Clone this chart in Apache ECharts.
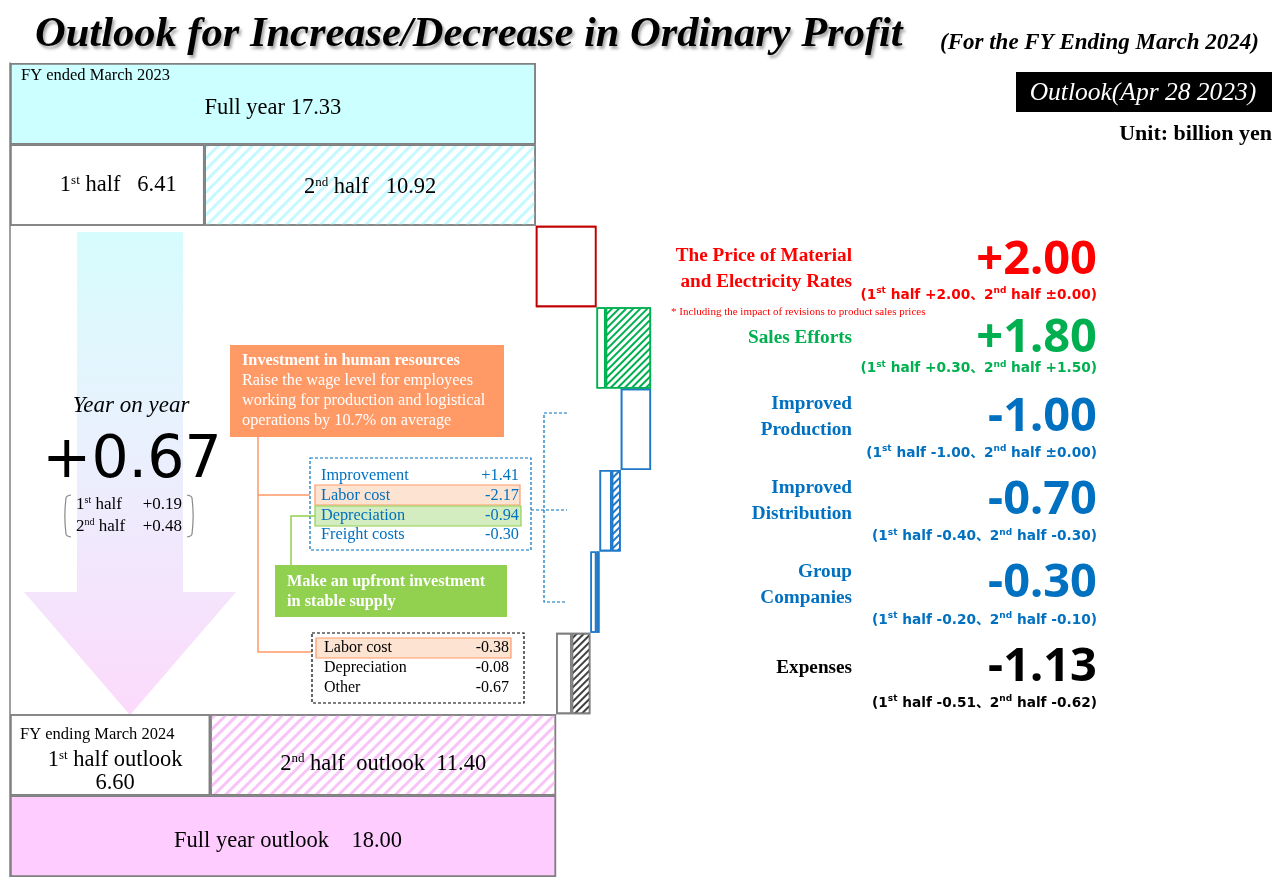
<!DOCTYPE html>
<html>
<head>
<meta charset="utf-8">
<script src="https://cdn.jsdelivr.net/npm/echarts@6/dist/echarts.min.js"></script>
<style>
  html, body { margin: 0; padding: 0; background: #fff; }
  #chart { width: 1274px; height: 877px; }
</style>
</head>
<body>
<div id="chart"></div>
<script>
// ---- data ----
const rowKeys = ['fy23', 'fy23half', 'material', 'sales', 'production', 'distribution', 'group', 'expenses', 'fy24half', 'fy24'];
const prevFull = 17.33;
const prevHalves = [6.41, 10.92];
const outlookFull = 18.00;
const outlookHalves = [6.60, 11.40];

const stepNames = ['The Price of Material\nand Electricity Rates', 'Sales Efforts', 'Improved\nProduction', 'Improved\nDistribution', 'Group\nCompanies', 'Expenses'];
const stepFirst = [2.00, 0.30, -1.00, -0.40, -0.20, -0.51];
const stepSecond = [0.00, 1.50, 0.00, -0.30, -0.10, -0.62];
const stepBorder = ['#C00000', '#00B050', '#1F78C8', '#1F78C8', '#1F78C8', '#808080'];
const stepHatch = ['#C00000', '#00B050', '#1F78C8', '#1F78C8', '#1F78C8', '#404040'];
const stepText = ['#FF0000', '#00B050', '#0070C0', '#0070C0', '#0070C0', '#000000'];

const yoyHalves = [0.19, 0.48];
const laborNote = ['Investment in human resources', 'Raise the wage level for employees', 'working for production and logistical', 'operations by 10.7% on average'];
const supplyNote = ['Make an upfront investment', 'in stable supply'];
const productionItems = [['Improvement', 1.41], ['Labor cost', -2.17], ['Depreciation', -0.94], ['Freight costs', -0.30]];
const expenseItems = [['Labor cost', -0.38], ['Depreciation', -0.08], ['Other', -0.67]];

// ---- helpers ----
const GRAY = '#808080';
const SERIF = '"Liberation Serif", "Times New Roman", serif';
const SANS = '"Noto Sans", "Noto Sans CJK JP", sans-serif';
const signed = v => (v > 0.0001 ? '+' : v < -0.0001 ? '-' : '±') + Math.abs(v).toFixed(2);
const hatch = (color, stripe, gap) => ({
    symbol: 'rect', symbolSize: 1, dashArrayX: [1, 0], dashArrayY: [stripe, gap], rotation: -Math.PI / 4, color
});
const noHatch = { symbol: 'none', dashArrayX: [1, 0], dashArrayY: [1, 0], color: 'rgba(0,0,0,0)' };
const rich = {
    n: { fontFamily: SERIF, fontSize: 22.5, color: '#000', lineHeight: 23 },
    s: { fontFamily: SERIF, fontSize: 13, color: '#000', verticalAlign: 'top' }
};

// 瀑布各段：base 透明，A = 上期(白)，B = 下期(斜线)
let level = prevFull;
const stepBase = [], stepA = [], stepB = [];
stepFirst.forEach((f, i) => {
    const s = stepSecond[i];
    const next = level + f + s;
    stepBase.push(+Math.min(level, next).toFixed(2));
    stepA.push(Math.abs(f));
    stepB.push(Math.abs(s));
    level = next;
});

const baseData = [0, 0, ...stepBase, 0, 0];
const aData = [
    { value: prevFull, itemStyle: { color: '#CCFFFF', borderColor: GRAY },
      label: { show: true, offset: [0, 4], formatter: '{n|Full year ' + prevFull.toFixed(2) + '}' } },
    { value: prevHalves[0], itemStyle: { color: '#fff', borderColor: GRAY },
      label: { show: true, offset: [11, 0], formatter: '{n|1}{s|st}{n| half   ' + prevHalves[0].toFixed(2) + '}' } },
    ...stepA.map((v, i) => ({ value: v, itemStyle: { color: '#fff', borderColor: stepBorder[i], borderWidth: 1.6 } })),
    { value: outlookHalves[0], itemStyle: { color: '#fff', borderColor: GRAY },
      label: { show: true, offset: [5, 17], formatter: '{n|1}{s|st}{n| half outlook}\n{n|' + outlookHalves[0].toFixed(2) + '}' } },
    { value: outlookFull, itemStyle: { color: '#FFCCFF', borderColor: GRAY },
      label: { show: true, offset: [5, 5], formatter: '{n|Full year outlook    ' + outlookFull.toFixed(2) + '}' } }
];
const bData = [
    '-',
    { value: prevHalves[1], itemStyle: { color: '#fff', borderColor: GRAY, decal: hatch('#C4FAFF', 3, 5) },
      label: { show: true, offset: [0, 2], formatter: '{n|2}{s|nd}{n| half   ' + prevHalves[1].toFixed(2) + '}' } },
    ...stepB.map((v, i) => v === 0 ? '-' : ({
        value: v, itemStyle: { color: '#fff', borderColor: stepBorder[i], borderWidth: 1.6, decal: hatch(stepHatch[i], 1.4, 3) }
    })),
    { value: outlookHalves[1], itemStyle: { color: '#fff', borderColor: GRAY, decal: hatch('#F8C4F8', 3, 5) },
      label: { show: true, offset: [0, 9], formatter: '{n|2}{s|nd}{n| half  outlook  ' + outlookHalves[1].toFixed(2) + '}' } },
    '-'
];

const chart = echarts.init(document.getElementById('chart'), null, { renderer: 'canvas' });

chart.setOption({
    animation: false,
    aria: { enabled: true, decal: { show: true } },
    grid: { left: 10, right: 50.4, top: 63, bottom: -4, containLabel: false },
    xAxis: { type: 'value', min: 0, max: 40, show: false },
    yAxis: {
        type: 'category', inverse: true, data: rowKeys,
        axisLine: { lineStyle: { color: GRAY, width: 1.5 } },
        axisTick: { length: 3, lineStyle: { color: GRAY } },
        axisLabel: { show: false }
    },
    series: [
        { name: 'base', type: 'bar', stack: 'w', barWidth: '100%', silent: true,
          itemStyle: { color: 'transparent', decal: noHatch }, data: baseData },
        { name: 'first', type: 'bar', stack: 'w', barWidth: '100%',
          itemStyle: { borderWidth: 1.5, decal: noHatch }, label: { position: 'inside', rich }, data: aData },
        { name: 'second', type: 'bar', stack: 'w', barWidth: '100%',
          itemStyle: { borderWidth: 1.5 }, label: { position: 'inside', rich }, data: bData }
    ]
});

// ---- annotations ----
const rowY = i => chart.convertToPixel({ yAxisIndex: 0 }, i);
const txt = (x, y, text, font, fill, align, extra) => ({
    type: 'text', x, y, z: 10,
    style: Object.assign({ text, font, fill: fill || '#000', align: align || 'left', verticalAlign: 'middle' }, extra || {})
});
const g = [];

g.push(txt(35, 35, 'Outlook for Increase/Decrease in Ordinary Profit', 'italic bold 42.5px ' + SERIF, '#000', 'left',
    { textShadowColor: 'rgba(0,0,0,0.35)', textShadowBlur: 3, textShadowOffsetX: 2, textShadowOffsetY: 3 }));
g.push(txt(940, 43, '(For the FY Ending March 2024)', 'italic bold 23px ' + SERIF));
g.push({ type: 'rect', shape: { x: 1016, y: 72, width: 256, height: 40 }, style: { fill: '#000' } });
g.push(txt(1143, 93, 'Outlook(Apr 28 2023)', 'italic 25.5px ' + SERIF, '#fff', 'center'));
g.push(txt(1272, 134, 'Unit: billion yen', 'bold 22px ' + SERIF, '#000', 'right'));
g.push(txt(21, 76, 'FY ended March 2023', '16.5px ' + SERIF));
g.push(txt(20, 735, 'FY ending March 2024', '16.5px ' + SERIF));

// 大箭头
g.push({
    type: 'polygon', z: 1,
    shape: { points: [[77, 232], [183, 232], [183, 592], [236, 592], [130, 715], [24, 592], [77, 592]] },
    style: { fill: new echarts.graphic.LinearGradient(0, 0, 0, 1, [
        { offset: 0, color: '#D6FCFD' }, { offset: 0.45, color: '#EAF0FD' }, { offset: 1, color: '#FCDAFB' }
    ]) }
});
const yoyTotal = stepFirst.reduce((a, b) => a + b, 0) + stepSecond.reduce((a, b) => a + b, 0);
g.push(txt(131, 406, 'Year on year', 'italic 23px ' + SERIF, '#000', 'center'));
g.push(txt(132, 462, signed(yoyTotal), '58.5px "DejaVu Sans"', '#000', 'center'));
g.push({ type: 'polyline', z: 10, shape: { points: [[71, 495], [66, 498], [66, 534], [71, 537]], smooth: 0.4 }, style: { stroke: '#888', lineWidth: 1.2, fill: null } });
g.push({ type: 'polyline', z: 10, shape: { points: [[187, 495], [192, 498], [192, 534], [187, 537]], smooth: 0.4 }, style: { stroke: '#888', lineWidth: 1.2, fill: null } });
const halfRich = { n: { fontFamily: SERIF, fontSize: 17, lineHeight: 20 }, s: { fontFamily: SERIF, fontSize: 10, verticalAlign: 'top' } };
g.push(txt(76, 505, '{n|1}{s|st}{n| half}', '17px ' + SERIF, '#000', 'left', { rich: halfRich }));
g.push(txt(76, 527, '{n|2}{s|nd}{n| half}', '17px ' + SERIF, '#000', 'left', { rich: halfRich }));
g.push(txt(182, 505, signed(yoyHalves[0]), '17px ' + SERIF, '#000', 'right'));
g.push(txt(182, 527, signed(yoyHalves[1]), '17px ' + SERIF, '#000', 'right'));

// 人件费说明框
const ORANGE = '#FF9966', LGREEN = '#92D050', BLUE = '#0070C0';
g.push({ type: 'rect', z: 5, shape: { x: 230, y: 345, width: 274, height: 92 }, style: { fill: ORANGE } });
laborNote.forEach((t, i) => g.push(txt(242, 361 + i * 20, t, (i === 0 ? 'bold ' : '') + '16.3px ' + SERIF, '#fff')));
g.push({ type: 'polyline', z: 5, shape: { points: [[258, 437], [258, 652], [313, 652]] }, style: { stroke: ORANGE, lineWidth: 1.5, fill: null } });
g.push({ type: 'line', z: 5, shape: { x1: 258, y1: 495, x2: 315, y2: 495 }, style: { stroke: ORANGE, lineWidth: 1.5 } });

// 生产改善明细
g.push({ type: 'rect', z: 5, shape: { x: 310, y: 458, width: 221, height: 92 }, style: { fill: '#fff', stroke: BLUE, lineWidth: 1.2, lineDash: [3, 2] } });
g.push({ type: 'rect', z: 6, shape: { x: 315, y: 485, width: 205, height: 20 }, style: { fill: '#FDE4D2', stroke: ORANGE, lineWidth: 1.2 } });
g.push({ type: 'rect', z: 6, shape: { x: 315, y: 506, width: 206, height: 20 }, style: { fill: '#D3EDC1', stroke: LGREEN, lineWidth: 1.2 } });
productionItems.forEach(([name, v], i) => {
    g.push(txt(321, 476 + i * 19.7, name, '16.3px ' + SERIF, BLUE));
    g.push(txt(519, 476 + i * 19.7, signed(v), '16.3px ' + SERIF, BLUE, 'right'));
});
g.push({ type: 'line', z: 5, shape: { x1: 531, y1: 510, x2: 567, y2: 510 }, style: { stroke: BLUE, lineWidth: 1.2, lineDash: [3, 2] } });
g.push({ type: 'polyline', z: 5, shape: { points: [[567, 413], [544, 413], [544, 602], [567, 602]] }, style: { stroke: BLUE, lineWidth: 1.2, lineDash: [3, 2], fill: null } });

// 稳定供给
g.push({ type: 'polyline', z: 5, shape: { points: [[315, 516], [291, 516], [291, 565]] }, style: { stroke: LGREEN, lineWidth: 1.5, fill: null } });
g.push({ type: 'rect', z: 5, shape: { x: 275, y: 565, width: 232, height: 52 }, style: { fill: LGREEN } });
supplyNote.forEach((t, i) => g.push(txt(287, 582 + i * 20, t, 'bold 16.3px ' + SERIF, '#fff')));

// 经费明细
g.push({ type: 'rect', z: 5, shape: { x: 312, y: 633, width: 212, height: 70 }, style: { fill: '#fff', stroke: '#000', lineWidth: 1.2, lineDash: [3, 2] } });
g.push({ type: 'rect', z: 6, shape: { x: 316, y: 638, width: 195, height: 20 }, style: { fill: '#FDE4D2', stroke: ORANGE, lineWidth: 1.2 } });
expenseItems.forEach(([name, v], i) => {
    g.push(txt(324, 648 + i * 20, name, '16px ' + SERIF));
    g.push(txt(509, 648 + i * 20, signed(v), '16px ' + SERIF, '#000', 'right'));
});

// 右侧说明（每行微调的垂直位移）
const nameDy = [2.5, -10, -12, -10, -7, -5.5];
const valueDy = [-6, -9, -12, -10, -8, -6];
const subDy = [29, 21, 24, 26, 28, 30];
stepNames.forEach((name, i) => {
    const c = rowY(i + 2);
    const col = stepText[i];
    g.push(txt(852, c + nameDy[i], name, 'bold 19.2px ' + SERIF, col, 'right', { lineHeight: 26 }));
    g.push(txt(1097, c + valueDy[i], signed(stepFirst[i] + stepSecond[i]), 'bold 47px ' + SANS, col, 'right'));
    const subRich = {
        m: { fontFamily: '"DejaVu Sans", "Noto Sans CJK JP"', fontWeight: 'bold', fontSize: 13.7, color: col, lineHeight: 18 },
        s: { fontFamily: '"DejaVu Sans"', fontWeight: 'bold', fontSize: 9, color: col, verticalAlign: 'top' }
    };
    g.push(txt(1097, c + subDy[i],
        '{m|(1}{s|st}{m| half ' + signed(stepFirst[i]) + '、2}{s|nd}{m| half ' + signed(stepSecond[i]) + ')}',
        'bold 14px ' + SANS, col, 'right', { rich: subRich }));
});
g.push(txt(671, 312, '* Including the impact of revisions to product sales prices', '11px ' + SERIF, '#FF0000'));

chart.setOption({ graphic: g });
</script>
</body>
</html>
